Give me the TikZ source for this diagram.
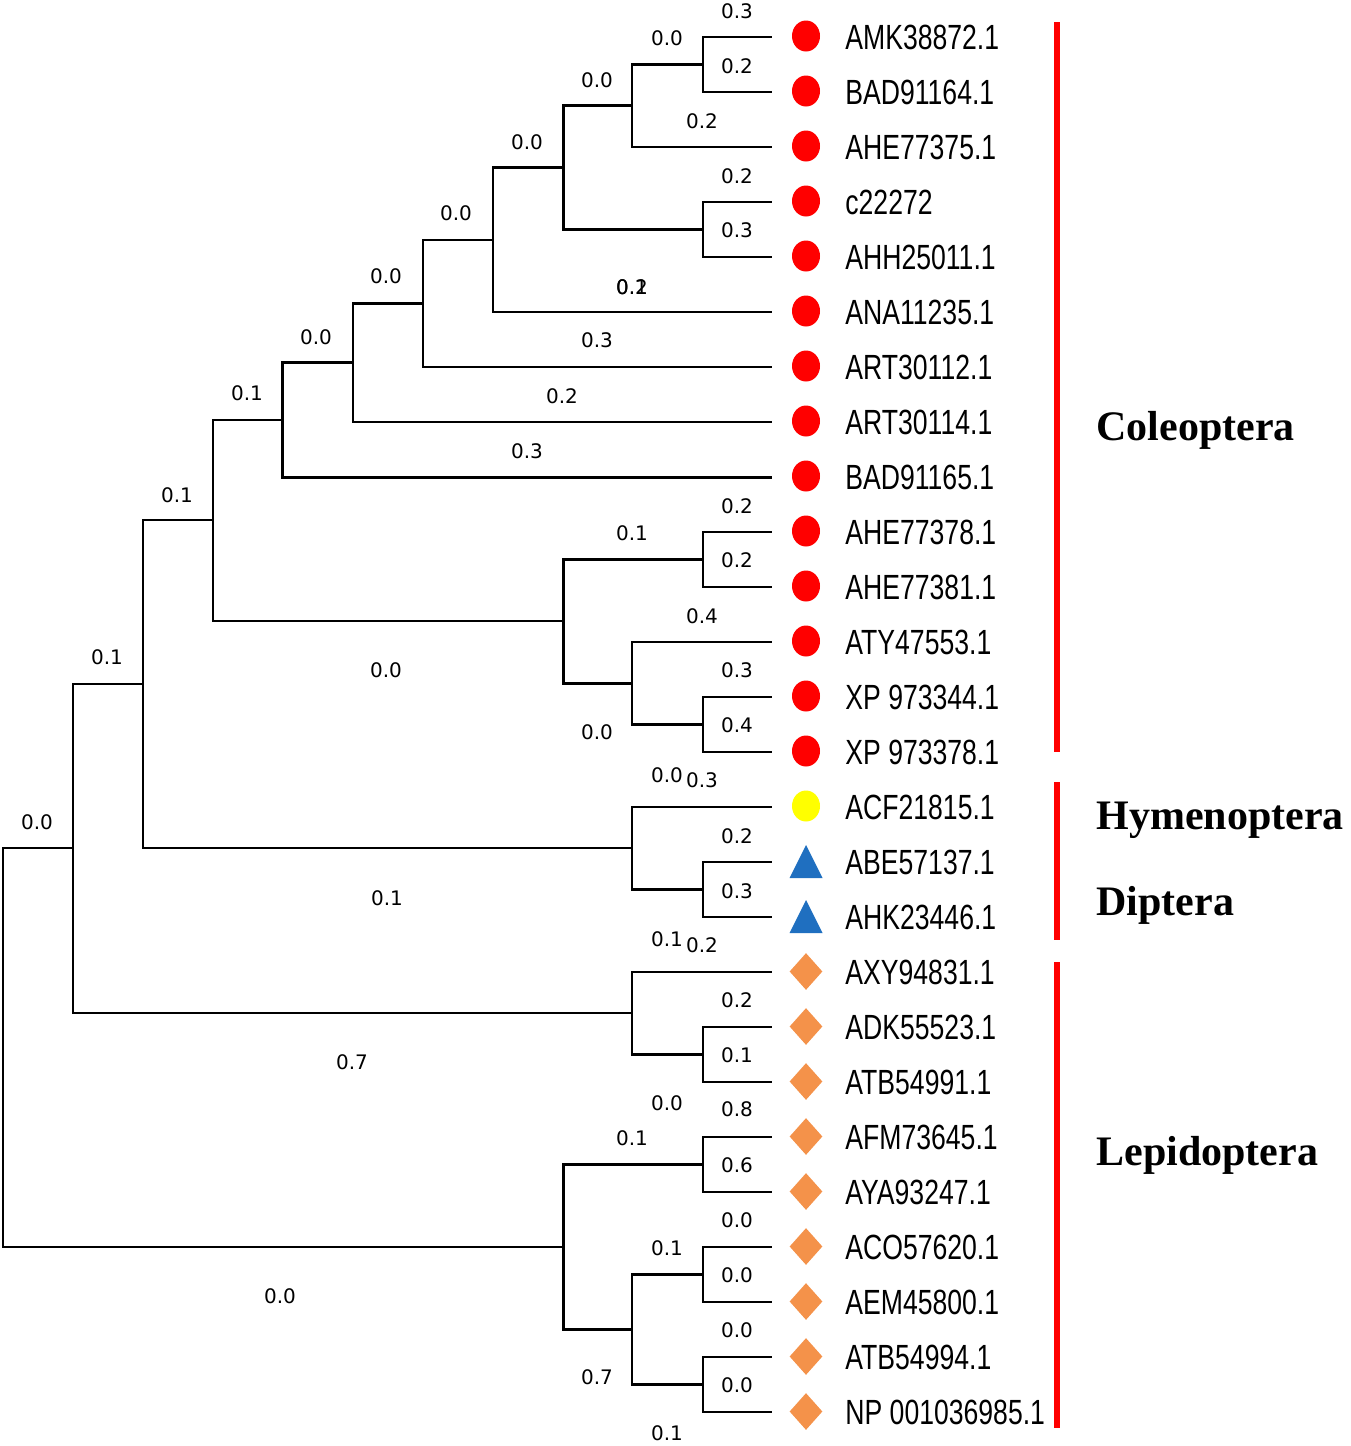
\documentclass[tikz,border=0pt]{standalone}
\usepackage{fontspec}
\usetikzlibrary{shapes.geometric}
\newfontfamily\leaffont[FakeStretch=0.76]{Liberation Sans}
\newfontfamily\numfont{DejaVu Sans}
\newfontfamily\grpfont{Liberation Serif}
\definecolor{cred}{HTML}{FF0000}
\definecolor{cyel}{HTML}{FFFF00}
\definecolor{cblue}{HTML}{1F6FC0}
\definecolor{corange}{HTML}{F4924A}
\begin{document}
\begin{tikzpicture}[x=0.5pt,y=-0.5pt,
  br/.style={line width=1.15pt, line join=miter},
  grpline/.style={draw=cred, line width=2.6pt},
  leaf/.style={anchor=west, inner sep=0, font=\leaffont\fontsize{17.5pt}{20pt}\selectfont, text height=12.5pt, text depth=0pt},
  bl/.style={inner sep=0, font=\numfont\fontsize{10pt}{12pt}\selectfont, text height=7.3pt, text depth=0pt},
  grp/.style={anchor=west, inner sep=0, font=\grpfont\bfseries\fontsize{21pt}{24pt}\selectfont, text height=13.9pt, text depth=0pt},
  rdot/.style={ellipse, fill=cred, minimum width=14pt, minimum height=15.5pt, inner sep=0},
  ydot/.style={ellipse, fill=cyel, minimum width=14pt, minimum height=15.5pt, inner sep=0},
  odia/.style={diamond, fill=corange, minimum width=16.5pt, minimum height=18.5pt, inner sep=0}
]
\path[use as bounding box] (0,0) rectangle (1350,1446);

% leaves
\foreach \i/\txt in {1/AMK38872.1, 2/BAD91164.1, 3/AHE77375.1, 4/c22272, 5/AHH25011.1,
  6/ANA11235.1, 7/ART30112.1, 8/ART30114.1, 9/BAD91165.1, 10/AHE77378.1,
  11/AHE77381.1, 12/ATY47553.1, 13/XP 973344.1, 14/XP 973378.1, 15/ACF21815.1,
  16/ABE57137.1, 17/AHK23446.1, 18/AXY94831.1, 19/ADK55523.1, 20/ATB54991.1,
  21/AFM73645.1, 22/AYA93247.1, 23/ACO57620.1, 24/AEM45800.1, 25/ATB54994.1,
  26/NP 001036985.1}{
  \coordinate (e\i) at (772,{37+55*(\i-1)});
  \node[leaf] (t\i) at (845,{37+55*(\i-1)}) {\txt};
}

% symbols
\foreach \i in {1,...,14}{ \node[rdot] (s\i) at (806,{36+55*(\i-1)}) {}; }
\node[ydot] (s15) at (806,806) {};
\foreach \i in {16,17}{
  \coordinate (s\i) at (806,{37+55*(\i-1)});
  \fill[cblue] (s\i) ++(-16.5,16) -- ++(33,0) -- ++(-16.5,-33) -- cycle;
}
\foreach \i in {18,...,26}{ \node[odia] (s\i) at (806,{36.5+55*(\i-1)}) {}; }

% internal nodes
\coordinate (n1) at (703,64.5);
\coordinate (n2) at (632,105.5);
\coordinate (n3) at (703,229.5);
\coordinate (n4) at (563,167.5);
\coordinate (n5) at (493,240);
\coordinate (n6) at (423,303.5);
\coordinate (n7) at (353,362.5);
\coordinate (n8) at (282,420);
\coordinate (n9) at (703,559.5);
\coordinate (n10) at (703,724.5);
\coordinate (n11) at (632,683);
\coordinate (n12) at (563,621);
\coordinate (n13) at (213,520);
\coordinate (n14) at (703,889.5);
\coordinate (n15) at (632,848);
\coordinate (n16) at (143,684);
\coordinate (n17) at (703,1054.5);
\coordinate (n18) at (632,1013);
\coordinate (n19) at (73,848);
\coordinate (n20) at (703,1164.5);
\coordinate (n21) at (703,1274.5);
\coordinate (n22) at (703,1384.5);
\coordinate (n23) at (632,1329.5);
\coordinate (n24) at (563,1247);
\coordinate (root) at (3,1047.5);

% branches
\draw[br] (n1) |- (e1) (n1) |- (e2);
\draw[br] (n2) |- (n1) (n2) |- (e3);
\draw[br] (n3) |- (e4) (n3) |- (e5);
\draw[br, line width=1.5pt] (n4) |- (n2) (n4) |- (n3);
\draw[br] (n5) |- (n4) (n5) |- (e6);
\draw[br] (n6) |- (n5) (n6) |- (e7);
\draw[br] (n7) |- (n6) (n7) |- (e8);
\draw[br, line width=1.5pt] (n8) |- (n7) (n8) |- (e9);
\draw[br] (n9) |- (e10) (n9) |- (e11);
\draw[br] (n10) |- (e13) (n10) |- (e14);
\draw[br] (n11) |- (e12) (n11) |- (n10);
\draw[br, line width=1.5pt] (n12) |- (n9) (n12) |- (n11);
\draw[br] (n13) |- (n8) (n13) |- (n12);
\draw[br] (n14) |- (e16) (n14) |- (e17);
\draw[br] (n15) |- (e15) (n15) |- (n14);
\draw[br] (n16) |- (n13) (n16) |- (n15);
\draw[br] (n17) |- (e19) (n17) |- (e20);
\draw[br] (n18) |- (e18) (n18) |- (n17);
\draw[br] (n19) |- (n16) (n19) |- (n18);
\draw[br] (n20) |- (e21) (n20) |- (e22);
\draw[br] (n21) |- (e23) (n21) |- (e24);
\draw[br] (n22) |- (e25) (n22) |- (e26);
\draw[br] (n23) |- (n21) (n23) |- (n22);
\draw[br, line width=1.5pt] (n24) |- (n20) (n24) |- (n23);
\draw[br, line width=1.4pt] (root) |- (n19) (root) |- (n24);

% branch length labels
\foreach \x/\y/\v [count=\k] in {
  737/11/0.3, 667/38/0.0, 737/66/0.2, 597/80/0.0, 702/121/0.2, 527/142/0.0,
  737/176/0.2, 737/230/0.3, 456/213/0.0, 632/287/0.1, 632/287/0.2, 386/276/0.0,
  316/337/0.0, 247/393/0.1, 597/340/0.3, 562/396/0.2, 527/451/0.3, 177/495/0.1,
  107/657/0.1, 386/670/0.0, 737/506/0.2, 632/533/0.1, 737/560/0.2, 702/616/0.4,
  737/670/0.3, 737/725/0.4, 597/732/0.0, 667/775/0.0, 702/780/0.3, 737/836/0.2,
  737/891/0.3, 667/939/0.1, 702/945/0.2, 737/1000/0.2, 737/1055/0.1, 667/1103/0.0,
  737/1109/0.8, 37/822/0.0, 387/898/0.1, 352/1062/0.7, 632/1138/0.1, 737/1165/0.6,
  737/1220/0.0, 667/1248/0.1, 737/1275/0.0, 737/1330/0.0, 597/1377/0.7, 737/1385/0.0,
  667/1433/0.1, 280/1296/0.0}{
  \node[bl] (bl\k) at (\x,\y) {\v};
}

% group bars
\coordinate (c1) at (1057,22);  \coordinate (c2) at (1057,752);
\coordinate (h1) at (1057,782); \coordinate (h2) at (1057,940);
\coordinate (l1) at (1057,962); \coordinate (l2) at (1057,1428);
\draw[grpline] (c1) -- (c2);
\draw[grpline] (h1) -- (h2);
\draw[grpline] (l1) -- (l2);

\node[grp] (gcol) at (1096,427) {Coleoptera};
\node[grp] (ghym) at (1096,816) {Hymenoptera};
\node[grp] (gdip) at (1096,902) {Diptera};
\node[grp] (glep) at (1096,1152) {Lepidoptera};
\end{tikzpicture}
\end{document}
